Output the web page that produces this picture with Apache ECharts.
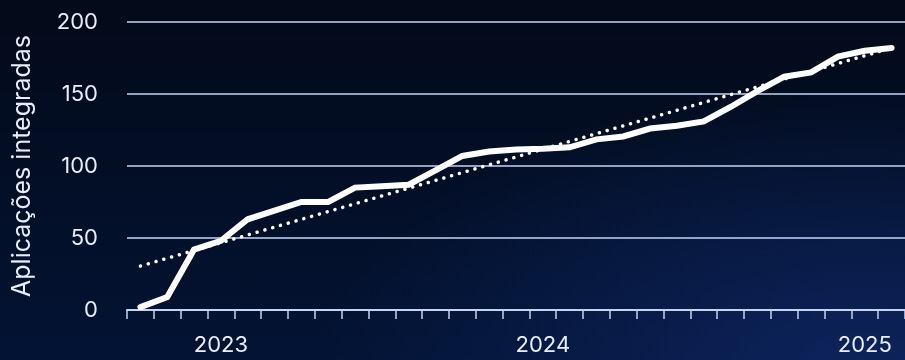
<!DOCTYPE html>
<html>
<head>
<meta charset="utf-8">
<script src="https://cdn.jsdelivr.net/npm/echarts@6/dist/echarts.min.js"></script>
<style>
  html, body { margin: 0; padding: 0; width: 905px; height: 360px; overflow: hidden; }
  #chart {
    width: 905px; height: 360px;
    background:
      radial-gradient(ellipse 60% 75% at 95% 100%, rgba(14,38,98,0.85) 0%, rgba(14,38,98,0) 100%),
      linear-gradient(180deg, #030a19 0%, #031333 100%);
  }
</style>
</head>
<body>
<div id="chart"></div>
<script>
// Monthly categories (Oct 2022 – Feb 2025)
const categories = [
  '2022-10','2022-11','2022-12',
  '2023-01','2023-02','2023-03','2023-04','2023-05','2023-06','2023-07','2023-08','2023-09','2023-10','2023-11','2023-12',
  '2024-01','2024-02','2024-03','2024-04','2024-05','2024-06','2024-07','2024-08','2024-09','2024-10','2024-11','2024-12',
  '2025-01','2025-02'
];
// Cumulative integrated applications
const integradas = [
  2, 9, 42,
  48, 63, 69, 75, 75, 85, 86, 87, 97, 107, 110, 111.5,
  112, 113, 118.5, 120.5, 126, 128, 131, 141, 152, 162, 165, 176,
  180, 182
];
// Linear trend endpoints (first and last month)
const trendStart = 30.5;
const trendEnd = 182;
const yTicks = { min: 0, max: 200, interval: 50 };
const yAxisName = 'Aplicações integradas';

const trend = categories.map((c, i) =>
  i === 0 ? trendStart : (i === categories.length - 1 ? trendEnd : null));

const FONT = 'Inter, "Noto Sans", sans-serif';
const textColor = '#e8edf8';
const axisBlue = '#c6d4f4';

const chart = echarts.init(document.getElementById('chart'), null, { renderer: 'canvas' });
chart.setOption({
  backgroundColor: 'transparent',
  animation: false,
  grid: { left: 127, top: 22, width: 783, bottom: 50, containLabel: false },
  xAxis: {
    type: 'category',
    data: categories,
    boundaryGap: true,
    axisLine: { show: true, lineStyle: { color: axisBlue, width: 2 } },
    axisTick: { show: true, interval: 0, length: 9, lineStyle: { color: axisBlue, width: 1.5 } },
    axisLabel: {
      interval: (idx, val) => val.endsWith('-01'),
      formatter: (val) => val.slice(0, 4),
      color: textColor, fontFamily: FONT, fontSize: 22, margin: 24
    },
    splitLine: { show: false }
  },
  yAxis: {
    type: 'value',
    min: yTicks.min, max: yTicks.max, interval: yTicks.interval,
    name: yAxisName,
    nameLocation: 'middle',
    nameGap: 92,
    nameTextStyle: { color: textColor, fontFamily: FONT, fontSize: 25 },
    axisLine: { show: false },
    axisTick: { show: false },
    axisLabel: { color: textColor, fontFamily: FONT, fontSize: 22, margin: 29 },
    splitLine: { show: true, lineStyle: { color: axisBlue, width: 1.7 } }
  },
  series: [
    {
      type: 'line',
      data: trend,
      connectNulls: true,
      symbol: 'none',
      lineStyle: { color: '#ffffff', width: 3.5, type: [0.1, 8], cap: 'round' },
      z: 2
    },
    {
      type: 'line',
      data: integradas,
      symbol: 'none',
      lineStyle: { color: '#ffffff', width: 6, cap: 'round', join: 'miter' },
      z: 3
    }
  ]
});
</script>
</body>
</html>
